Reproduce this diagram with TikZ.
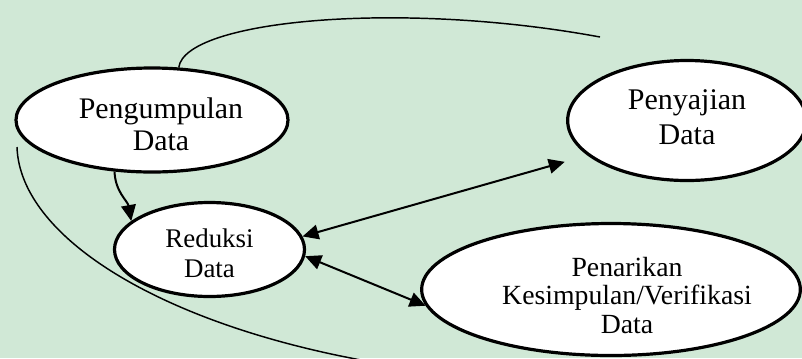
\documentclass[tikz,border=0pt]{standalone}
\usepackage{fontspec}
\setmainfont{Liberation Serif}
\usetikzlibrary{shapes.geometric,arrows.meta}
\definecolor{latar}{RGB}{208,232,214}

\begin{document}
\begin{tikzpicture}[x=0.75pt,y=-0.75pt,
	tahap/.style={draw, ellipse, fill=white, line width=2.4pt, inner sep=0pt},
	teks/.style={align=center, inner sep=0pt},
	panah/.style={line width=1.5pt, -{Triangle[length=12pt,width=11pt]}},
	panahdua/.style={line width=1.5pt, {Triangle[length=12pt,width=11pt]}-{Triangle[length=12pt,width=11pt]}},
	garis/.style={line width=1.1pt}]
	\fill [latar] (0,0) rectangle (802,358);
	\useasboundingbox (0,0) rectangle (802,358);
	\clip (0,0) rectangle (802,358);
		% Tahap
		\node [tahap, minimum width=204pt, minimum height=78pt,
			label={[teks, font=\fontsize{22.4}{24}\selectfont, xshift=6.75pt, yshift=-2.9pt]center:Pengumpulan\\Data}]
			(kumpul) at (152,120) {};
		\node [tahap, minimum width=142.5pt, minimum height=70.5pt,
			label={[teks, font=\fontsize{20.2}{22.5}\selectfont, yshift=-2.6pt]center:Reduksi\\Data}]
			(reduksi) at (209.5,249.5) {};
		\node [tahap, minimum width=179pt, minimum height=90pt,
			label={[teks, font=\fontsize{22.5}{26}\selectfont, yshift=2.6pt]center:Penyajian\\Data}]
			(saji) at (687,120.5) {};
		\node [tahap, minimum width=284pt, minimum height=99pt,
			label={[teks, font=\fontsize{20.8}{21.7}\selectfont, xshift=12pt, yshift=-4.5pt]center:Penarikan\\Kesimpulan/Verifikasi\\Data}]
			(tarik) at (611,289.5) {};
		% Ujung bebas
		\coordinate (ujungatas) at (600,37);
		\coordinate (kiriawal) at (17,147);
		\coordinate (kiriakhir) at (390,365);
		% Alur
		\draw [garis] (kumpul.63) .. controls (185,20) and (400,0) .. (ujungatas);
		\draw [garis] (kiriawal) .. controls (20,240) and (170,330) .. (kiriakhir);
		\draw [panah] (kumpul.234) to[out=-88,in=100] (reduksi.160);
		\draw [panahdua] (reduksi.8) -- ([xshift=-1pt,yshift=-31pt]saji.west);
		\draw [panahdua] (reduksi.-4) -- (tarik.185);
	\end{tikzpicture}
\end{document}
